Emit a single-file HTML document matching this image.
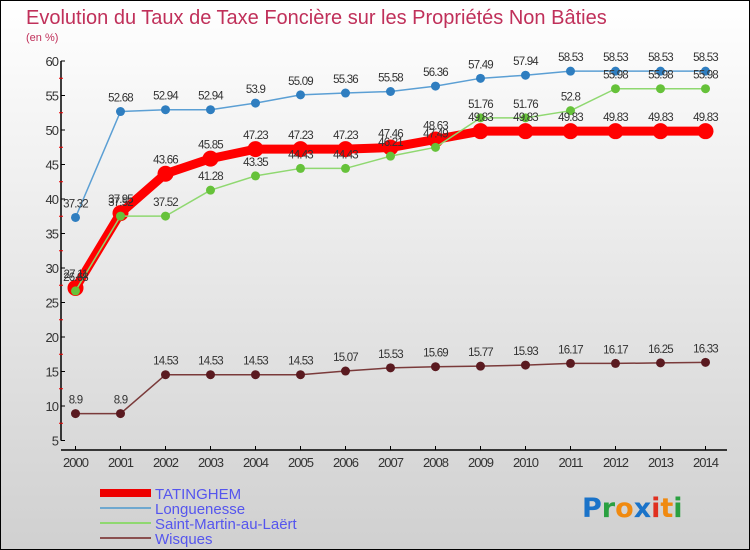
<!DOCTYPE html>
<html><head><meta charset="utf-8"><style>
html,body{margin:0;padding:0}
body{width:750px;height:550px;overflow:hidden;font-family:"Liberation Sans",sans-serif}
</style></head><body>
<svg id="chart" width="750" height="550" xmlns="http://www.w3.org/2000/svg" style="display:block">
<defs><linearGradient id="bg" x1="0" y1="0" x2="0" y2="1"><stop offset="0" stop-color="#ffffff"/><stop offset="1" stop-color="#d0d0d0"/></linearGradient></defs>
<rect x="0.5" y="0.5" width="749" height="549" fill="url(#bg)" stroke="#000"/>
<text x="26" y="24" font-size="20" fill="#c0305a">Evolution du Taux de Taxe Foncière sur les Propriétés Non Bâties</text>
<text x="26" y="41" font-size="11" fill="#c0305a">(en %)</text>
<g id="axes"></g><g id="series"></g><g id="labels"></g>
<g>
<rect x="100" y="489" width="51" height="8" fill="#e00"/>
<line x1="100" y1="508" x2="151" y2="508" stroke="#6fa8cf" stroke-width="2"/>
<line x1="100" y1="523" x2="151" y2="523" stroke="#8fd870" stroke-width="2"/>
<line x1="100" y1="538" x2="151" y2="538" stroke="#8a5050" stroke-width="2"/>
<text x="155" y="499" font-size="15" fill="#5555ee">TATINGHEM</text>
<text x="155" y="514" font-size="15" fill="#5555ee">Longuenesse</text>
<text x="155" y="529" font-size="15" fill="#5555ee">Saint-Martin-au-Laërt</text>
<text x="155" y="544" font-size="15" fill="#5555ee">Wisques</text>
</g>
<text x="582" y="517" font-size="27" font-weight="bold" font-family="'DejaVu Sans',sans-serif"><tspan fill="#1a73c9">P</tspan><tspan fill="#2aa040">r</tspan><tspan fill="#f08a10">o</tspan><tspan fill="#1a73c9">x</tspan><tspan fill="#e03020">i</tspan><tspan fill="#f08a10">t</tspan><tspan fill="#2aa040">i</tspan></text>
</svg>
<script>
const years=[2000,2001,2002,2003,2004,2005,2006,2007,2008,2009,2010,2011,2012,2013,2014];
const tatinghem=[27.11,37.95,43.66,45.85,47.23,47.23,47.23,47.46,48.63,49.83,49.83,49.83,49.83,49.83,49.83];
const longuenesse=[37.32,52.68,52.94,52.94,53.9,55.09,55.36,55.58,56.36,57.49,57.94,58.53,58.53,58.53,58.53];
const saintMartin=[26.68,37.52,37.52,41.28,43.35,44.43,44.43,46.21,47.49,51.76,51.76,52.8,55.98,55.98,55.98];
const wisques=[8.9,8.9,14.53,14.53,14.53,14.53,15.07,15.53,15.69,15.77,15.93,16.17,16.17,16.25,16.33];
const yTicks=[5,10,15,20,25,30,35,40,45,50,55,60];
const NS='http://www.w3.org/2000/svg';
const X=i=>75.5+i*45;
const Y=v=>61+(60-v)*6.9;
function mk(t,a,p){const e=document.createElementNS(NS,t);for(const k in a)e.setAttribute(k,a[k]);p.appendChild(e);return e;}
const ax=document.getElementById('axes'),sg=document.getElementById('series'),lg=document.getElementById('labels');
let l=mk('line',{x1:61,y1:Y(60),x2:61,y2:Y(5),stroke:'#000','stroke-width':1.5},ax);


l=mk('line',{x1:61,y1:450,x2:727,y2:450,stroke:'#000','stroke-width':1.5},ax);


yTicks.forEach((v,i)=>{
  const t=mk('line',{x1:61,y1:Y(v),x2:65,y2:Y(v),stroke:'#000'},ax);
  
  
  if(i<yTicks.length-1){const m=mk('line',{x1:59,y1:Y(v+2.5),x2:63,y2:Y(v+2.5),stroke:'#e00'},ax);
  
  }
  const tx=mk('text',{x:58,y:Y(v)+5,'font-size':13,'text-anchor':'end',fill:'#333','letter-spacing':'-1'},ax);
  
  
  tx.textContent=v;
});
years.forEach((y,i)=>{
  const t=mk('line',{x1:X(i),y1:446,x2:X(i),y2:450,stroke:'#000'},ax);
  
  
  const tx=mk('text',{x:X(i),y:467,'font-size':13,'text-anchor':'middle',fill:'#333','letter-spacing':'-1'},ax);
  
  
  tx.textContent=y;
});
function series(vals,name,color,w,r,pt){
  const pl=mk('polyline',{points:vals.map((v,i)=>X(i)+','+Y(v)).join(' '),fill:'none',stroke:color,'stroke-width':w,'stroke-linejoin':'round'},sg);
  
  
  vals.forEach((v,i)=>{
    const c=mk('circle',{cx:X(i),cy:Y(v),r:r,fill:pt},sg);
    
    
    const tx=mk('text',{x:X(i),y:Y(v)-10,'font-size':11.5,'text-anchor':'middle',fill:'#333','letter-spacing':'-0.8'},lg);
    
    
    tx.textContent=String(v);
  });
}
series(longuenesse,'longuenesse','#5b9fd4',1.5,4.5,'#2f7ec0');
series(wisques,'wisques','#7a3a3a',1.5,4.5,'#5a1a20');
series(tatinghem,'tatinghem','#f00',9,8,'#f00');
series(saintMartin,'saint-martin','#8fd870',1.5,4.5,'#66c23a');
</script>
</body></html>
